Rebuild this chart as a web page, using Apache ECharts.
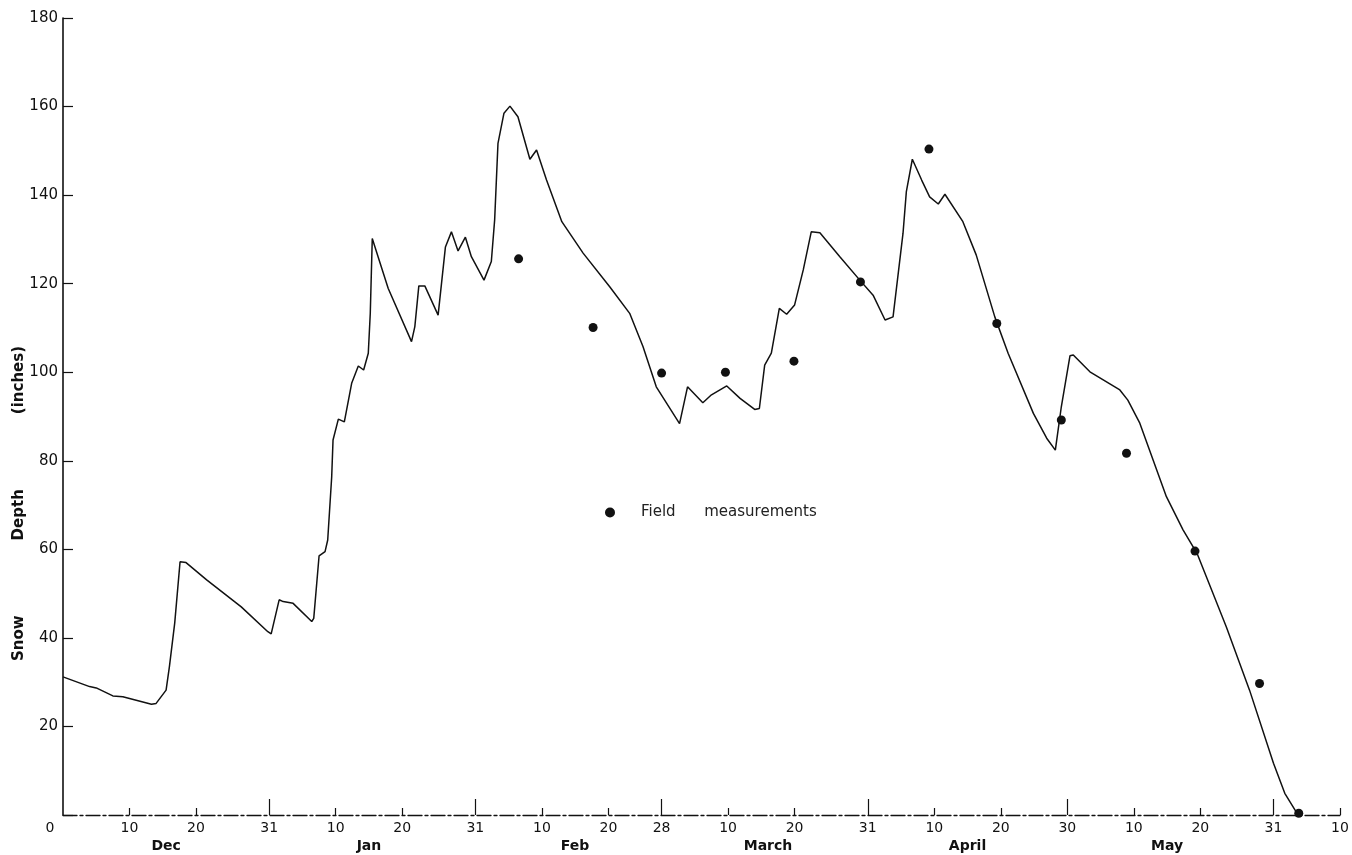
<!DOCTYPE html>
<html>
<head>
<meta charset="utf-8">
<title>Snow Depth</title>
<script src="https://cdn.jsdelivr.net/npm/echarts@6/dist/echarts.min.js"></script>
<style>
  html, body { margin: 0; padding: 0; background: #fff; }
  #chart { width: 1352px; height: 855px; }
</style>
</head>
<body>
<div id="chart"></div>
<script>
// Simulated snow depth, days counted from 1 December
const lineDays = [
  0, 4.0, 5.0, 7.5, 9.0, 13.3, 14.0, 15.5, 16.0, 16.8, 17.6, 18.5, 21.6, 26.8, 30.8, 31.3,
  32.5, 33.1, 34.6, 37.4, 37.7, 38.5, 39.4, 39.8, 40.4, 40.6, 41.4, 42.3, 43.4, 44.4, 45.2,
  45.9, 46.2, 46.5, 47.6, 48.9, 52.4, 52.9, 53.5, 54.4, 56.4, 57.5, 58.4, 59.4, 60.5, 61.4,
  63.3, 64.4, 64.9, 65.4, 66.3, 67.2, 68.4, 70.2, 71.2, 72.7, 75.0, 78.2, 82.2, 85.2, 87.2,
  89.2, 92.7, 93.9, 96.2, 97.5, 99.8, 101.8, 104.0, 104.7, 105.5, 106.5, 107.7, 108.8, 110.0,
  111.3, 112.5, 113.8, 116.8, 119.8, 121.8, 123.6, 124.8, 126.3, 126.8, 127.7, 129.1, 130.3,
  131.6, 132.6, 135.3, 137.3, 140.1, 142.1, 145.9, 147.9, 149.2, 150.1, 151.4, 151.9, 154.4,
  158.9, 160.1, 161.9, 165.9, 168.4, 170.5, 174.9, 178.4, 182.0, 183.7, 185.5
];
const lineDepth = [
  31.2, 29.0, 28.7, 26.9, 26.7, 25.0, 25.2, 28.2, 33.5, 43.4, 57.2, 57.0, 53.1, 47.0, 41.4, 40.9,
  48.6, 48.2, 47.8, 43.7, 44.4, 58.5, 59.5, 62.1, 76.4, 84.7, 89.4, 88.8, 97.5, 101.4, 100.5,
  104.3, 113.3, 130.2, 125.0, 118.9, 106.9, 110.3, 119.5, 119.5, 112.9, 128.3, 131.7, 127.4, 130.5, 126.1,
  120.8, 125.0, 134.4, 151.7, 158.5, 160.1, 157.7, 148.1, 150.2, 143.4, 134.0, 126.9, 119.3, 113.3, 105.8,
  96.7, 88.4, 96.7, 93.1, 94.9, 96.9, 94.1, 91.6, 91.8, 101.6, 104.3, 114.4, 113.1, 115.2,
  123.1, 131.7, 131.5, 126.1, 120.8, 117.4, 111.8, 112.5, 131.4, 140.8, 148.1, 143.4, 139.6,
  138.0, 140.2, 134.0, 126.5, 112.5, 104.3, 90.7, 85.1, 82.4, 92.2, 103.7, 103.9, 100.1,
  96.0, 93.7, 88.5, 71.9, 64.4, 59.1, 42.5, 28.2, 11.7, 4.9, 0.5
];

// Field measurements
const fieldDays  = [68.5, 79.7, 90.0, 99.6, 109.9, 119.9, 130.2, 140.4, 150.1, 159.9, 170.2, 179.9, 185.8];
const fieldDepth = [125.6, 110.1, 99.8, 100.0, 102.5, 120.4, 150.4, 111.0, 89.2, 81.7, 59.6, 29.7, 0.4];

// Axis ticks: day number and the day-of-month shown under it
const tickDays   = [0, 10, 20, 31, 41, 51, 62, 72, 82, 90, 100, 110, 121, 131, 141, 151, 161, 171, 182, 192];
const tickLabels = ['0', '10', '20', '31', '10', '20', '31', '10', '20', '28', '10', '20', '31', '10', '20', '30', '10', '20', '31', '10'];
const monthEndDays = [31, 62, 90, 121, 151, 182];
const shortTickDays = [10, 20, 41, 51, 72, 82, 100, 110, 131, 141, 161, 171, 192];
const monthNames = ['Dec', 'Jan', 'Feb', 'March', 'April', 'May'];
const monthLabelDays = [15.5, 46, 77, 106, 136, 166];

const yTicks = [20, 40, 60, 80, 100, 120, 140, 160, 180];

const ink = '#111';
const baseFont = 'DejaVu Sans';

const chart = echarts.init(document.getElementById('chart'), null, { renderer: 'canvas' });

const xCommon = { type: 'value', min: 0, max: 192, gridIndex: 0, position: 'bottom', splitLine: { show: false } };

chart.setOption({
  backgroundColor: '#fff',
  animation: false,
  grid: { left: 63, right: 12, top: 18, bottom: 40, containLabel: false, outerBoundsMode: 'none' },
  legend: {
    data: ['Field      measurements'],
    left: 600,
    top: 500,
    itemWidth: 10,
    itemHeight: 10,
    textStyle: { fontFamily: baseFont, fontSize: 15, color: '#222', padding: [0, 0, 0, 21] }
  },
  xAxis: [
    Object.assign({}, xCommon, {
      axisLine: { show: true, onZero: false, lineStyle: { color: ink, width: 1.3, type: [14, 3, 3, 3] } },
      axisTick: { show: true, inside: true, length: 7, customValues: shortTickDays, lineStyle: { color: ink, width: 1.2 } },
      axisLabel: {
        show: true,
        customValues: tickDays,
        margin: 6,
        fontFamily: baseFont,
        fontSize: 14,
        color: ink,
        formatter: function (v) {
          const i = tickDays.indexOf(v);
          if (i === 0) return '{o|' + tickLabels[0] + '}';
          return i >= 0 ? tickLabels[i] : '';
        },
        rich: { o: { fontFamily: baseFont, fontSize: 14, color: ink, padding: [0, 26, 0, 0] } }
      }
    }),
    Object.assign({}, xCommon, {
      axisLine: { show: false },
      axisTick: { show: true, inside: true, length: 16, customValues: monthEndDays, lineStyle: { color: ink, width: 1.2 } },
      axisLabel: { show: false }
    }),
    Object.assign({}, xCommon, {
      axisLine: { show: false },
      axisTick: { show: false },
      axisLabel: {
        show: true,
        customValues: monthLabelDays,
        margin: 24,
        fontFamily: baseFont,
        fontWeight: 'bold',
        fontSize: 14,
        color: ink,
        formatter: function (v) {
          const i = monthLabelDays.indexOf(v);
          return i >= 0 ? monthNames[i] : '';
        }
      }
    })
  ],
  yAxis: {
    type: 'value',
    min: 0,
    max: 180,
    interval: 20,
    name: 'Snow\u2003\u2003\u2003\u2003\u2003Depth\u2003\u2003\u2003\u2003\u2003(inches)',
    nameLocation: 'middle',
    nameGap: 36,
    nameMoveOverlap: false,
    nameTextStyle: { fontFamily: baseFont, fontWeight: 'bold', fontSize: 15, color: ink, padding: [0, 174, 0, 0] },
    splitLine: { show: false },
    axisLine: { show: true, onZero: false, lineStyle: { color: ink, width: 1.6 } },
    axisTick: { show: true, inside: true, length: 10, lineStyle: { color: ink, width: 1.2 } },
    axisLabel: {
      margin: 5,
      fontFamily: baseFont,
      fontSize: 15,
      color: ink,
      formatter: function (v) { return yTicks.indexOf(v) >= 0 ? String(v) : ''; }
    }
  },
  series: [
    {
      name: 'Simulated',
      type: 'line',
      xAxisIndex: 0,
      data: lineDays.map((d, i) => [d, lineDepth[i]]),
      showSymbol: false,
      symbol: 'none',
      smooth: false,
      lineStyle: { color: ink, width: 1.5 },
      z: 2
    },
    {
      name: 'Field      measurements',
      type: 'scatter',
      xAxisIndex: 0,
      data: fieldDays.map((d, i) => [d, fieldDepth[i]]),
      symbol: 'circle',
      symbolSize: 9,
      itemStyle: { color: ink, opacity: 1 },
      z: 3
    }
  ]
});
</script>
</body>
</html>
